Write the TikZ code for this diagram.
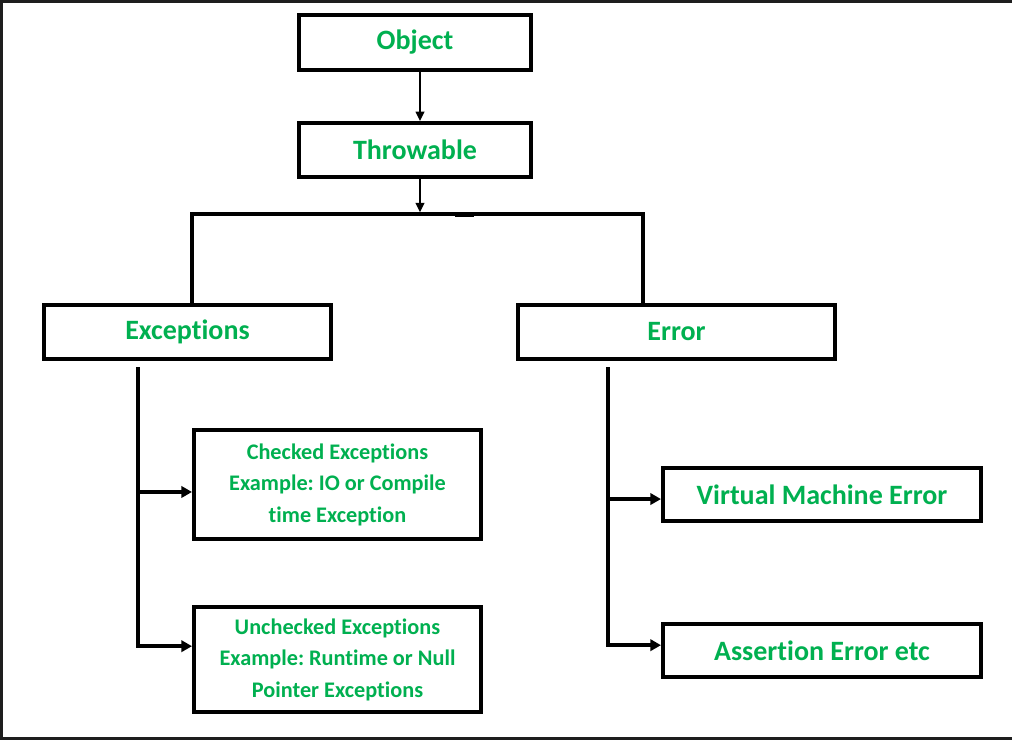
\documentclass[tikz,border=0pt]{standalone}
\usepackage{fontspec}
\setmainfont{Carlito}[Ligatures=NoCommon]
\frenchspacing
\usetikzlibrary{arrows.meta}
\definecolor{labelgreen}{HTML}{00B050}
\definecolor{framegray}{HTML}{1E1E1E}

\begin{document}
\begin{tikzpicture}[x=0.75pt, y=-0.75pt,
  box/.style={draw, line width=3pt, inner sep=0pt, align=center, text=labelgreen,
    font=\bfseries\fontsize{21}{25}\selectfont},
  smallbox/.style={box, font=\bfseries\fontsize{16.7}{23.6}\selectfont},
  link/.style={line width=1.1pt, -{Triangle[length=7pt,width=6.5pt]}},
  bus/.style={line width=2.6pt},
  branch/.style={line width=2.6pt, -{Triangle[length=8pt,width=8.5pt]}}]

  % Page and frame
  \useasboundingbox (0,0) rectangle (1012,740);
  \fill[white] (0,0) rectangle (1012,740);
  \fill[framegray] (0,0) rectangle (1012,3);
  \fill[framegray] (0,0) rectangle (3,740);
  \fill[framegray] (0,737) rectangle (1012,740);

  % Top of the hierarchy
  \node[box, minimum width=174pt, minimum height=41.25pt] (obj) at (415,42.5) {Object};
  \node[box, minimum width=174pt, minimum height=40.5pt] (thr) at (415,150) {Throwable};

  % Second level
  \node[box, minimum width=215.25pt, minimum height=40.5pt] (exc) at (187.5,332) {Exceptions};
  \node[box, minimum width=237.75pt, minimum height=40.5pt] (err) at (676.5,332) {Error};

  % Exception kinds
  \node[smallbox, minimum width=215.25pt, minimum height=81.75pt] (chk) at (337.5,484.5)
    {Checked Exceptions\\Example: IO or Compile\\time Exception};
  \node[smallbox, minimum width=215.25pt, minimum height=78.75pt] (unc) at (337.5,659.5)
    {Unchecked Exceptions\\Example: Runtime or Null\\Pointer Exceptions};

  % Error kinds
  \node[box, minimum width=238.5pt, minimum height=39.75pt] (vme) at (822,494.5) {Virtual Machine Error};
  \node[box, minimum width=238.5pt, minimum height=39.75pt] (ase) at (822,650.5) {Assertion Error etc};

  % Object -> Throwable -> split
  \coordinate (objout) at ([xshift=3.75pt]obj.south);
  \coordinate (thrin) at ([xshift=3.75pt]thr.north);
  \coordinate (throut) at ([xshift=3.75pt]thr.south);
  \coordinate (busL) at (192,214);
  \coordinate (busR) at (643,214);
  \draw[link] (objout) -- (thrin);
  \draw[link, shorten >=1.3pt] (throut) -- (throut |- busL);
  \draw[bus] (busL |- exc.north) -- (busL) -- (busR) -- (busR |- err.north);
  \draw[line width=1.6pt] (455,216) -- (474,216);

  % Left trunk
  \coordinate (ltrunk) at (138,367);
  \coordinate (chkin) at ([yshift=-5.6pt]chk.west);
  \coordinate (uncin) at ([yshift=10pt]unc.west);
  \draw[branch] (ltrunk) |- (uncin);
  \draw[branch] (chkin -| ltrunk) -- (chkin);

  % Right trunk
  \coordinate (rtrunk) at (608,367);
  \coordinate (vmein) at ([yshift=-3.4pt]vme.west);
  \coordinate (asein) at ([yshift=4pt]ase.west);
  \draw[branch] (rtrunk) |- (asein);
  \draw[branch] (vmein -| rtrunk) -- (vmein);
\end{tikzpicture}
\end{document}
